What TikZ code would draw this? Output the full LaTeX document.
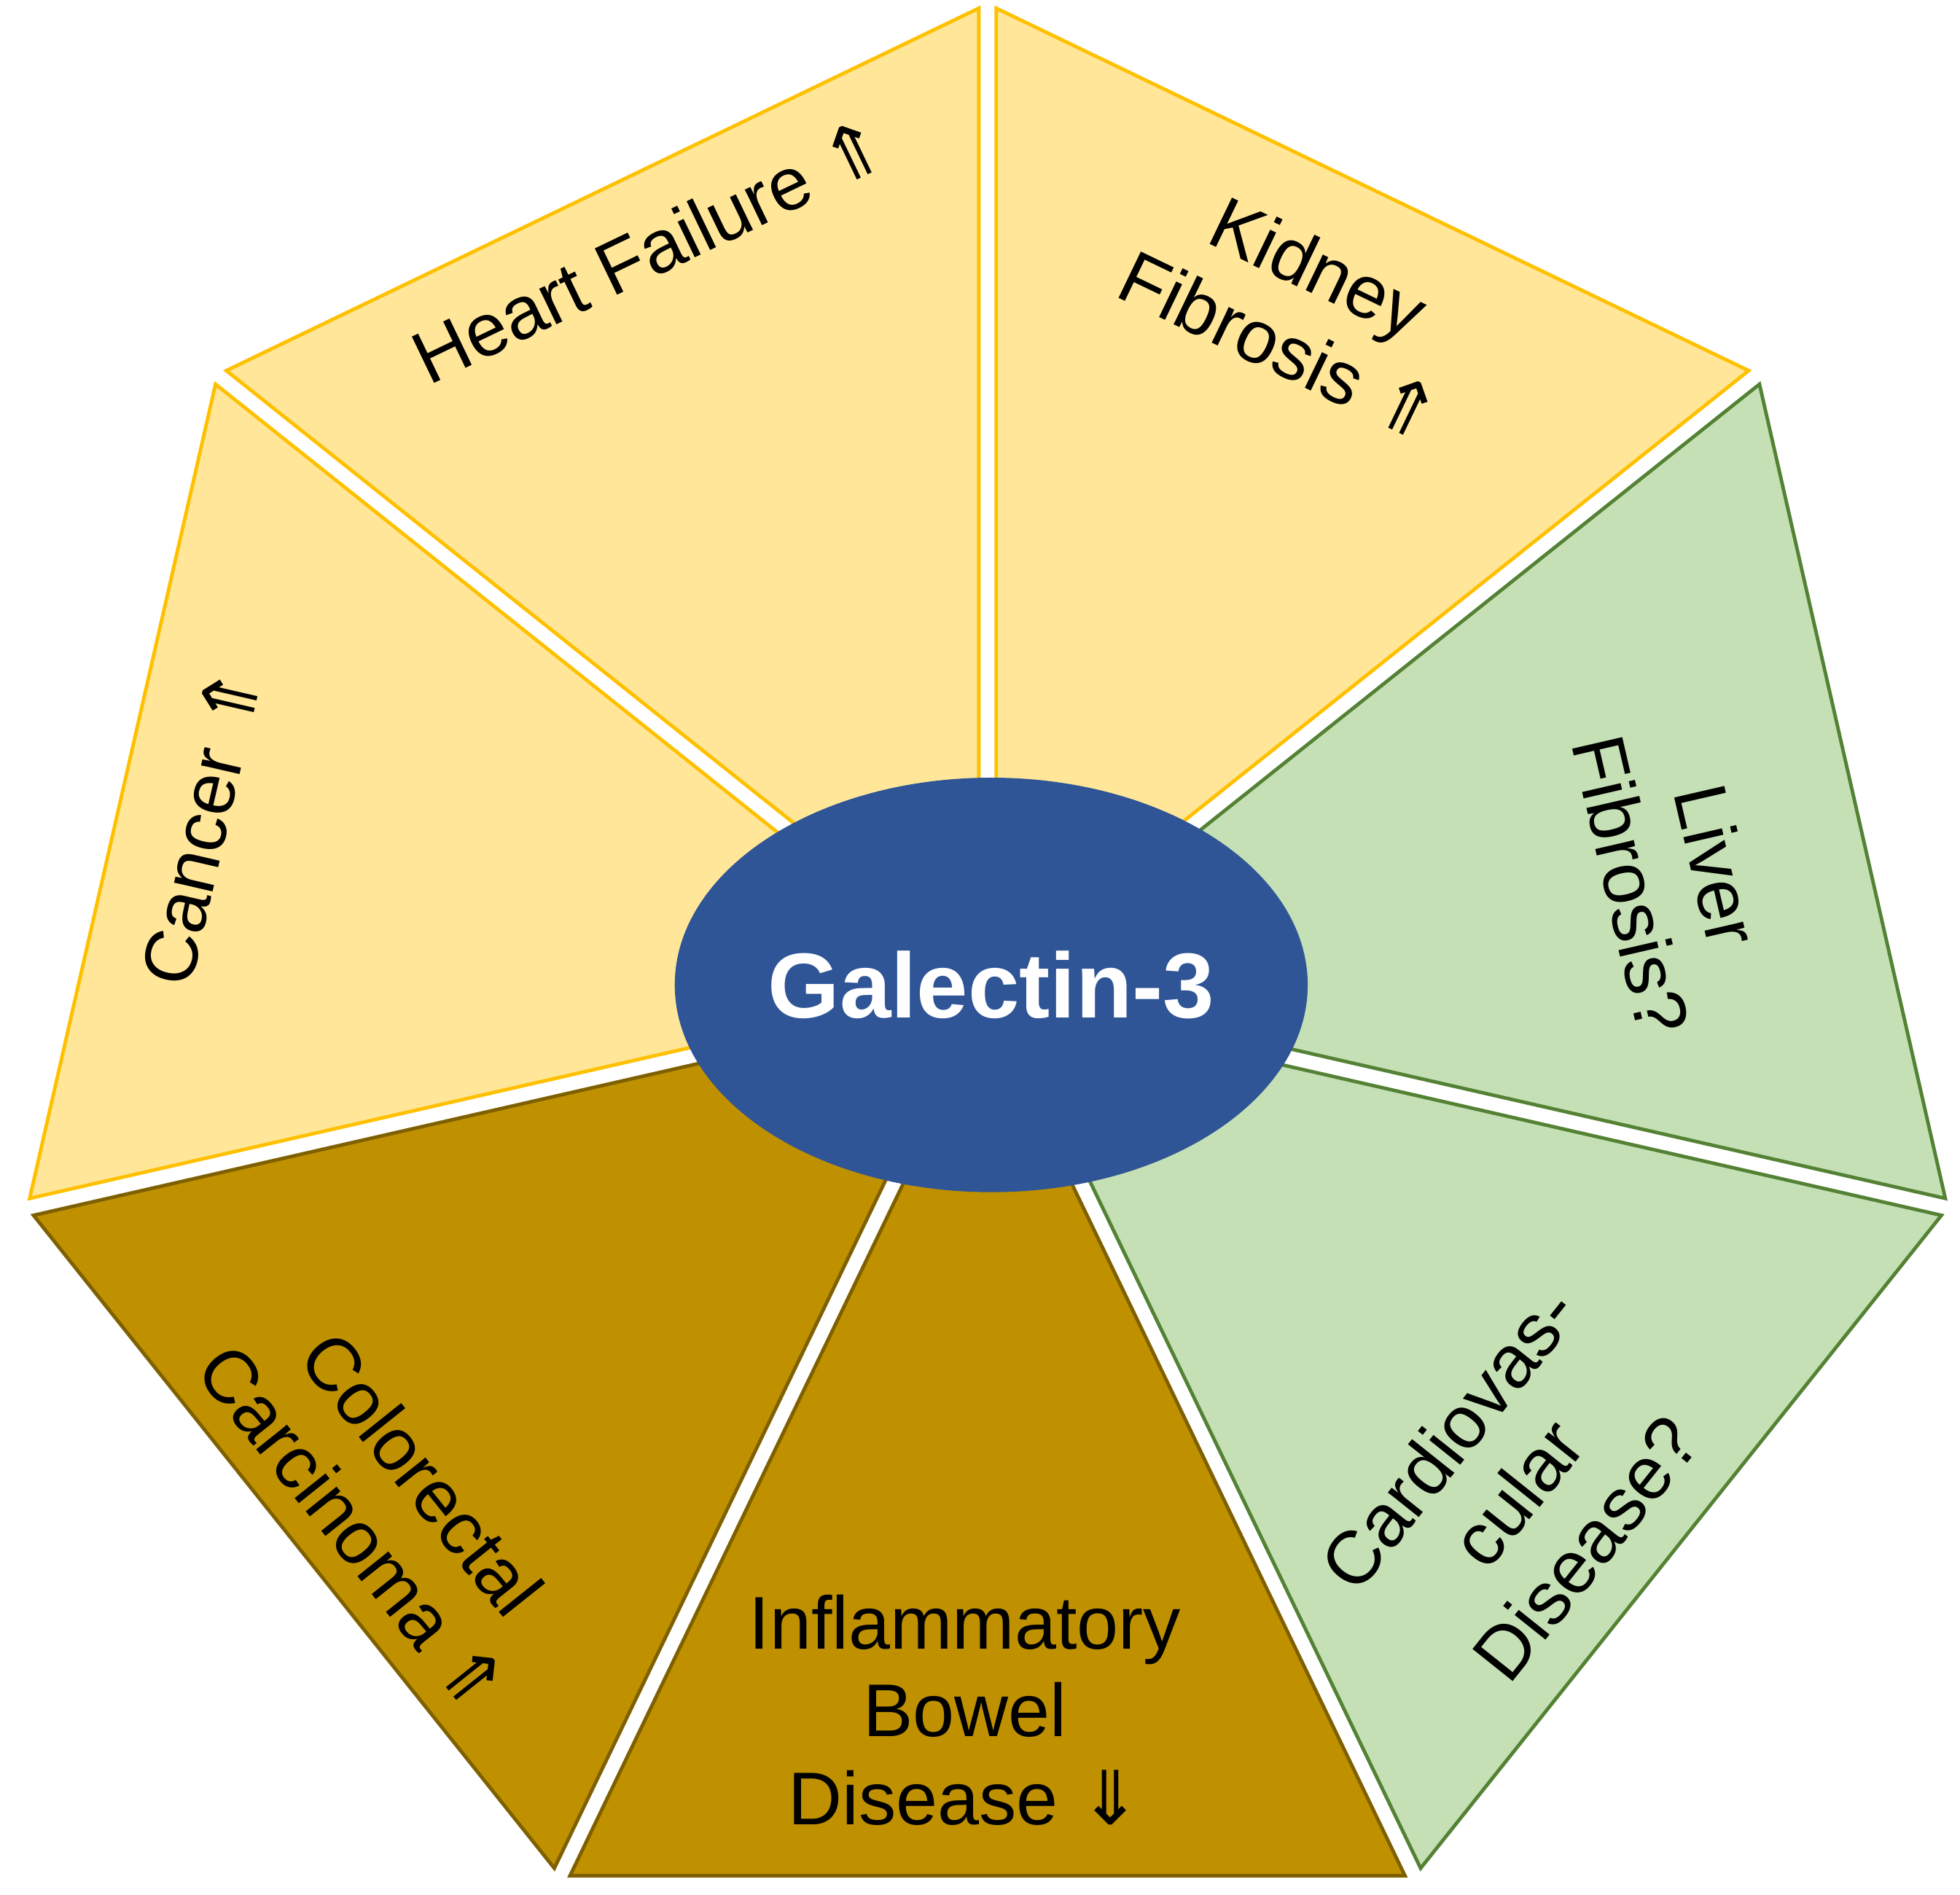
\documentclass[tikz,border=0pt]{standalone}
\usepackage{fontspec}
\usetikzlibrary{shapes.geometric}
\setmainfont{Liberation Sans}
\newfontfamily\dv{DejaVu Sans}
\begin{document}
\begin{tikzpicture}[x=0.01cm,y=0.01cm]
\definecolor{yfill}{HTML}{FFE699}\definecolor{ydraw}{HTML}{FFC000}
\definecolor{gfill}{HTML}{C5E0B4}\definecolor{gdraw}{HTML}{548235}
\definecolor{bfill}{HTML}{BF9000}\definecolor{bdraw}{HTML}{7F6000}
\definecolor{gal}{HTML}{2F5597}
\tikzset{lbl/.style={align=center,font=\fontsize{17}{20}\selectfont,inner sep=0pt},
 seg/.style={line width=0.8pt,line join=miter}}
\useasboundingbox (-790,-725) rectangle (778,791);
\def\R{770}
\newcommand\segm[4]{% a1 a2 fill draw
 \pgfmathsetmacro\mid{(#1+#2)/2}
 \draw[seg,fill=#3,draw=#4,shift={(\mid:16)}] (0,0) -- (#1:\R) -- (#2:\R) -- cycle;}
\segm{141.43}{90}{yfill}{ydraw}
\segm{90}{38.57}{yfill}{ydraw}
\segm{38.57}{-12.86}{gfill}{gdraw}
\segm{-12.86}{-64.29}{gfill}{gdraw}
\segm{-64.29}{-115.71}{bfill}{bdraw}
\segm{-115.71}{-167.14}{bfill}{bdraw}
\segm{-167.14}{-218.57}{yfill}{ydraw}
\node[ellipse,fill=gal,draw=gal,minimum width=4.06cm,minimum height=3.3cm,inner sep=0pt,
 text=white,font=\bfseries\fontsize{21}{24}\selectfont] (gal) at (3,3) {Galectin-3};
\node[lbl,rotate=25.7] (hf) at (114.6:650) {Heart Failure {\dv ⇑}};
\node[lbl,rotate=-25.7] (kf) at (65.4:600) {Kidney\\Fibrosis {\dv ⇑}};
\node[lbl,rotate=-77] (lf) at (9.4:557) {Liver\\Fibrosis?};
\node[lbl,rotate=51.4] (cv) at (-43.6:585) {Cardiovas-\\cular\\Disease?};
\node[lbl] (ibd) at (-18,-577) {Inflammatory\\Bowel\\Disease {\dv ⇓}};
\node[lbl,rotate=-51.4] (cc) at (-139.5:631) {Colorectal\\Carcinoma {\dv ⇑}};
\node[lbl,rotate=77] (ca) at (168.3:643) {Cancer {\dv ⇑}};
\end{tikzpicture}
\end{document}
